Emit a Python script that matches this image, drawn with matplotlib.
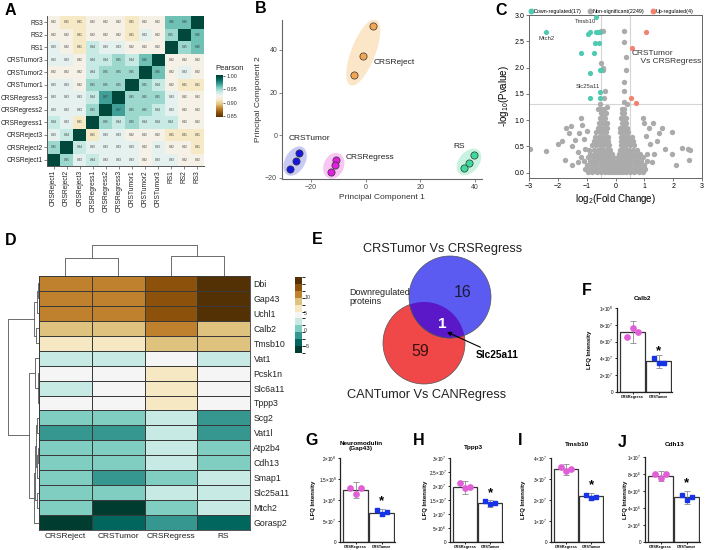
import numpy as np
import matplotlib
matplotlib.use('Agg')
import matplotlib.pyplot as plt
from matplotlib.colors import ListedColormap, BoundaryNorm
from matplotlib.patches import Circle
from matplotlib.lines import Line2D

plt.rcParams['font.family'] = ['Liberation Sans', 'DejaVu Sans']
plt.rcParams['mathtext.fontset'] = 'custom'
plt.rcParams['mathtext.rm'] = 'Liberation Sans'
plt.rcParams['mathtext.it'] = 'Liberation Sans:italic'
plt.rcParams['mathtext.bf'] = 'Liberation Sans:bold'

# ---------------- data ----------------
# A: Pearson correlation between samples
samples = ['CRSReject1', 'CRSReject2', 'CRSReject3', 'CRSRegress1', 'CRSRegress2', 'CRSRegress3',
           'CRSTumor1', 'CRSTumor2', 'CRSTumor3', 'RS1', 'RS2', 'RS3']
pearson = [
    [1.00, 0.95, 0.93, 0.94, 0.93, 0.93, 0.93, 0.92, 0.93, 0.93, 0.92, 0.92],
    [0.95, 1.00, 0.94, 0.93, 0.93, 0.93, 0.93, 0.92, 0.93, 0.92, 0.92, 0.91],
    [0.93, 0.94, 1.00, 0.91, 0.93, 0.93, 0.92, 0.92, 0.92, 0.91, 0.91, 0.91],
    [0.94, 0.93, 0.91, 1.00, 0.95, 0.94, 0.95, 0.94, 0.94, 0.94, 0.92, 0.92],
    [0.93, 0.93, 0.93, 0.95, 1.00, 0.97, 0.95, 0.95, 0.94, 0.93, 0.92, 0.92],
    [0.93, 0.93, 0.93, 0.94, 0.97, 1.00, 0.95, 0.95, 0.95, 0.93, 0.92, 0.92],
    [0.93, 0.93, 0.92, 0.95, 0.95, 0.95, 1.00, 0.95, 0.94, 0.92, 0.91, 0.91],
    [0.92, 0.92, 0.92, 0.94, 0.95, 0.95, 0.95, 1.00, 0.96, 0.92, 0.93, 0.92],
    [0.93, 0.93, 0.92, 0.94, 0.94, 0.95, 0.94, 0.96, 1.00, 0.92, 0.92, 0.92],
    [0.93, 0.92, 0.91, 0.94, 0.93, 0.93, 0.92, 0.92, 0.92, 1.00, 0.95, 0.96],
    [0.92, 0.92, 0.91, 0.92, 0.92, 0.92, 0.91, 0.93, 0.92, 0.95, 1.00, 0.96],
    [0.92, 0.91, 0.91, 0.92, 0.92, 0.92, 0.91, 0.92, 0.92, 0.96, 0.96, 1.00],
]

# B: PCA
pca_groups = ['CRSReject', 'CRSTumor', 'CRSRegress', 'RS']
pc1 = [[2.6, -1.0, -4.3], [-24.4, -25.5, -27.5], [-10.9, -11.4, -12.7], [39.6, 37.7, 35.9]]
pc2 = [[51.0, 37.3, 28.1], [-8.4, -12.3, -15.6], [-11.7, -14.0, -17.2], [-9.4, -12.8, -15.3]]
pca_colors = ['#F2A553', '#1717E0', '#E01EE0', '#3CDB9A']
pca_fills = ['#FCE6C8', '#C9CAF4', '#F7C6F3', '#C8F3E0']

# C: volcano
down_x = [-0.68, -2.41, -0.94, -0.88, -0.68, -0.54, -0.62, -0.71, -0.56, -1.21, -0.75, -0.88, -0.54, -0.52, -0.54, -0.88, -0.54]
down_y = [2.97, 2.68, 2.63, 2.68, 2.68, 2.68, 2.68, 2.47, 2.47, 2.27, 2.27, 1.90, 1.95, 1.96, 1.54, 1.42, 1.42]
up_x = [1.05, 0.58, 0.53, 0.70]
up_y = [2.68, 2.38, 1.42, 1.32]
ns_rows = [
    (0.02, [-0.95, -0.8, -0.65, -0.5, -0.38, -0.26, -0.15, -0.05, 0.05, 0.15, 0.26, 0.38, 0.5, 0.65, 0.8, 0.95]),
    (0.08, [-1.05, -0.88, -0.72, -0.58, -0.45, -0.33, -0.2, -0.1, 0.0, 0.1, 0.2, 0.33, 0.45, 0.58, 0.72, 0.88, 1.02]),
    (0.15, [-0.98, -0.82, -0.66, -0.52, -0.4, -0.28, -0.16, -0.05, 0.05, 0.16, 0.28, 0.4, 0.52, 0.66, 0.82, 0.98]),
    (0.22, [-1.1, -0.9, -0.74, -0.6, -0.47, -0.35, -0.24, -0.12, 0.0, 0.12, 0.24, 0.35, 0.47, 0.6, 0.74, 0.9, 1.08]),
    (0.29, [-0.95, -0.78, -0.64, -0.52, -0.4, -0.29, -0.18, -0.07, 0.07, 0.18, 0.29, 0.4, 0.52, 0.64, 0.8, 0.96]),
    (0.36, [-0.88, -0.72, -0.58, -0.46, -0.35, -0.24, -0.13, 0.12, 0.22, 0.33, 0.45, 0.57, 0.7, 0.86]),
    (0.44, [-0.92, -0.76, -0.62, -0.5, -0.39, -0.28, -0.18, 0.16, 0.26, 0.37, 0.48, 0.6, 0.74]),
    (0.52, [-0.82, -0.68, -0.55, -0.43, -0.31, -0.21, 0.18, 0.27, 0.38, 0.5, 0.63]),
    (0.60, [-0.76, -0.62, -0.5, -0.38, -0.27, 0.18, 0.26, 0.37, 0.48, 0.6]),
    (0.68, [-0.7, -0.57, -0.46, -0.35, -0.26, 0.18, 0.24, 0.34, 0.45, 0.56]),
    (0.77, [-0.66, -0.53, -0.42, -0.33, 0.17, 0.23, 0.33, 0.43]),
    (0.86, [-0.6, -0.49, -0.39, -0.3, 0.16, 0.22, 0.31, 0.4]),
    (0.95, [-0.57, -0.46, -0.37, -0.29, 0.21, 0.3, 0.38]),
    (1.04, [-0.54, -0.44, -0.35, 0.2, 0.28, 0.35]),
    (1.13, [-0.52, -0.42, -0.33, 0.21, 0.29]),
    (1.22, [-0.49, -0.39, 0.23, 0.31]),
]
ns_out_x = [-2.95, -2.4, -2.0, -1.85, -1.7, -1.6, -1.55, -1.75, -1.5, -1.4, -1.3, -1.25, -1.2, -1.15, -1.1, -1.05, -1.0, -1.3, -1.5, -1.2,
            1.05, 1.15, 1.2, 1.3, 1.35, 1.45, 1.5, 1.6, 1.7, 1.95, 1.95, 2.1, 2.3, 2.5, 2.55, 2.6, 1.25, 1.1, 1.0, 0.95,
            -0.5, -0.45, -0.5, -0.45, -0.45, -0.35, -0.4, -0.6, -0.55, -0.3, 0.3, 0.3, 0.35, 0.35, 0.3, 0.3, 0.3, 0.4]
ns_out_y = [0.45, 0.41, 0.55, 0.6, 0.85, 0.75, 0.88, 0.25, 0.5, 0.62, 0.4, 0.75, 1.05, 0.9, 0.65, 0.45, 0.8, 0.2, 0.15, 0.3,
            0.7, 0.85, 0.55, 0.95, 0.35, 0.6, 0.75, 0.85, 0.45, 0.78, 0.35, 0.15, 0.47, 0.45, 0.25, 0.43, 0.2, 0.35, 0.95, 1.05,
            2.7, 2.7, 2.08, 2.0, 1.96, 1.55, 1.43, 1.22, 1.3, 1.25, 2.7, 2.48, 2.2, 1.95, 1.72, 1.55, 1.35, 1.3]
volcano_labels = ['Tmsb10', 'Mtch2', 'Slc25a11']
volcano_label_xy = [(-1.05, 2.87), (-2.4, 2.56), (-0.95, 1.64)]

# D: clustered heatmap
conditions = ['CRSReject', 'CRSTumor', 'CRSRegress', 'RS']
genes = ['Dbi', 'Gap43', 'Uchl1', 'Calb2', 'Tmsb10', 'Vat1', 'Pcsk1n', 'Slc6a11', 'Tppp3',
         'Scg2', 'Vat1l', 'Atp2b4', 'Cdh13', 'Smap1', 'Slc25a11', 'Mtch2', 'Gorasp2']
expr = [
    [10.8, 10.8, 12.8, 15.0],
    [10.8, 10.8, 12.8, 15.0],
    [10.8, 10.8, 12.8, 15.0],
    [8.7, 8.7, 10.8, 8.7],
    [6.5, 6.5, 8.7, 8.7],
    [2.4, 2.4, 4.5, 2.4],
    [4.5, 4.5, 6.5, 4.5],
    [2.4, 4.5, 6.5, 4.5],
    [4.5, 4.5, 6.5, 4.5],
    [0.3, 0.3, 2.4, -1.8],
    [-1.8, -1.8, 2.4, -1.8],
    [0.3, 0.3, 2.4, 0.3],
    [0.3, 0.3, 2.4, 0.3],
    [0.3, -1.8, 0.3, 2.4],
    [0.3, 0.3, 2.4, 2.4],
    [0.3, -6.0, 0.3, 2.4],
    [-6.0, -3.9, -1.8, -3.9],
]
col_links = [(0, 1, 18), (2, 3, 20), (4, 5, 31)]
row_links = [(0, 1, 1.5), (17, 2, 2.5), (3, 4, 3), (18, 19, 5),
             (6, 8, 1.5), (21, 7, 2.5), (5, 22, 4),
             (11, 12, 1), (9, 10, 2), (24, 13, 2.5), (25, 26, 3), (14, 15, 2.5), (27, 28, 4), (29, 16, 5),
             (23, 30, 10), (20, 31, 31)]

# E: Venn
venn_only_crs = 16
venn_only_can = 59
venn_shared = 1

# F-J: LFQ intensity bars
bar_groups = ['CRSRegress', 'CRSTumor']
calb2_reg, calb2_tum = [6.6e7, 7.6e7, 7.1e7], [4.0e7, 3.4e7, 3.5e7]
calb2_mean, calb2_sd = [7.1e7, 3.65e7], [1.3e7, 0.8e7]
gap43_reg, gap43_tum = [1.28e8, 1.14e8, 1.28e8], [7.6e7, 6.7e7, 7.2e7]
gap43_mean, gap43_sd = [1.24e8, 7.0e7], [1.9e7, 0.85e7]
tppp3_reg, tppp3_tum = [2.12e7, 1.92e7, 1.95e7], [1.46e7, 1.36e7, 1.38e7]
tppp3_mean, tppp3_sd = [1.95e7, 1.38e7], [2.3e6, 1.3e6]
tmsb10_reg, tmsb10_tum = [3.55e7, 3.37e7, 3.49e7], [2.25e7, 2.1e7, 2.12e7]
tmsb10_mean, tmsb10_sd = [3.46e7, 2.17e7], [2.6e6, 1.6e6]
cdh13_reg, cdh13_tum = [8.0e6, 7.5e6, 8.0e6], [5.5e6, 4.9e6, 5.3e6]
cdh13_mean, cdh13_sd = [7.8e6, 5.25e6], [6e5, 7.5e5]

# ---------------- figure ----------------
W, H = 709, 550
fig = plt.figure(figsize=(W / 100, H / 100), dpi=100)


def box(l, t, r, b):
    return [l / W, 1 - b / H, (r - l) / W, (b - t) / H]


def ftext(x, y, s, **kw):
    fig.text(x / W, 1 - y / H, s, **kw)


for letter, (lx, ly) in zip('ABCDEFGHIJ', [(5, 3), (255, 1), (495, 3), (5, 233), (312, 232),
                                         (582, 283), (305, 433), (413, 433), (518, 433), (618, 435)]):
    ftext(lx, ly, letter, fontsize=11.5, fontweight='bold', va='top', ha='left')

# ---- A ----
axA = fig.add_axes(box(47, 16, 204, 166))
P = np.array(pearson)
imA = axA.imshow(P, cmap='BrBG', vmin=0.845, vmax=1.005, aspect='auto', origin='lower')
for i in range(len(samples)):
    for j in range(len(samples)):
        v = P[i, j]
        axA.text(j, i, '1' if v >= 1 else f'{v:.2f}', ha='center', va='center', fontsize=2.2, color='#333333')
axA.set_xticks(range(len(samples)))
axA.set_xticklabels(samples, rotation=90, fontsize=4.8, color='#222222')
axA.set_yticks(range(len(samples)))
axA.set_yticklabels(samples, fontsize=4.8, color='#222222')
axA.tick_params(length=2, width=0.5, color='#555555', pad=1)
for s in ['top', 'right']:
    axA.spines[s].set_visible(False)
for s in ['left', 'bottom']:
    axA.spines[s].set_color('#555555')
    axA.spines[s].set_linewidth(0.7)
caxA = fig.add_axes(box(216, 75, 223, 117))
cbA = fig.colorbar(imA, cax=caxA, ticks=[0.85, 0.90, 0.95, 1.00])
cbA.ax.set_yticklabels(['0.85', '0.90', '0.95', '1.00'], fontsize=4, color='#333333')
cbA.ax.tick_params(length=1.5, width=0.4, pad=1)
cbA.outline.set_visible(False)
ftext(215, 68, 'Pearson', fontsize=5.5, va='center', ha='left', color='#222222')

# ---- B ----
axB = fig.add_axes(box(282, 20, 482, 179))
sx, sy = 2.725, 2.135
for k, g in enumerate(pca_groups):
    X = np.array(pc1[k]) * sx
    Y = np.array(pc2[k]) * sy
    cx, cy = X.mean(), Y.mean()
    dx, dy = X[0] - X[-1], Y[0] - Y[-1]
    L = np.hypot(dx, dy)
    ux, uy = dx / L, dy / L
    a = L / 2 + (9 if k == 0 else 7)
    b = 12 if k == 0 else 10
    t = np.linspace(0, 2 * np.pi, 120)
    ex = cx + a * np.cos(t) * ux - b * np.sin(t) * uy
    ey = cy + a * np.cos(t) * uy + b * np.sin(t) * ux
    axB.fill(ex / sx, ey / sy, color=pca_fills[k], lw=0, zorder=1)
    axB.scatter(pc1[k], pc2[k], s=27, color=pca_colors[k], edgecolor='#333333', linewidth=0.5, zorder=3)
for g, (tx, ty) in zip(pca_groups, [(3, 34), (-28, -1.5), (-7.5, -10.3), (32, -5.5)]):
    axB.text(tx, ty, g, fontsize=6, color='#222222', ha='left', va='center')
axB.set_xlim(-30.6, 42.5)
axB.set_ylim(-20.5, 54)
axB.set_xticks([-20, 0, 20, 40])
axB.set_yticks([-20, 0, 20, 40])
axB.tick_params(labelsize=5, length=2, width=0.5, color='#555555', labelcolor='#444444', pad=1.5)
for s in ['top', 'right']:
    axB.spines[s].set_visible(False)
for s in ['left', 'bottom']:
    axB.spines[s].set_color('#666666')
    axB.spines[s].set_linewidth(0.8)
axB.set_xlabel('Principal Component 1', fontsize=6, color='#333333', labelpad=2)
axB.set_ylabel('Principal Component 2', fontsize=6, color='#333333', labelpad=2)

# ---- C ----
axC = fig.add_axes(box(529, 15, 702, 178))
ns_x = [x for y, xs in ns_rows for x in xs] + ns_out_x
ns_y = [y for y, xs in ns_rows for x in xs] + ns_out_y
grey, teal, salmon = '#ABABAB', '#4FC9B0', '#F0826E'
axC.axvline(-0.5, color='#D5D5D5', lw=0.8, zorder=1)
axC.axvline(0.5, color='#D5D5D5', lw=0.8, zorder=1)
axC.axhline(1.3, color='#D5D5D5', lw=0.8, zorder=1)
axC.scatter(ns_x, ns_y, s=15, color=grey, lw=0, zorder=2)
axC.scatter(down_x, down_y, s=14, color=teal, lw=0, zorder=3)
axC.scatter(up_x, up_y, s=14, color=salmon, lw=0, zorder=3)
for lab, (tx, ty) in zip(volcano_labels, volcano_label_xy):
    axC.text(tx, ty, lab, fontsize=4.2, color='#333333', ha='center', va='center')
axC.text(0.55, 2.05, 'CRSTumor\n    Vs CRSRegress', fontsize=6, color='#333333', ha='left', va='bottom', linespacing=1.1)
axC.set_xlim(-3, 3)
axC.set_ylim(-0.1, 3.0)
axC.set_xticks([-3, -2, -1, 0, 1, 2, 3])
axC.set_yticks([0, 0.5, 1.0, 1.5, 2.0, 2.5, 3.0])
axC.set_yticklabels(['0.0', '0.5', '1.0', '1.5', '2.0', '2.5', '3.0'])
axC.tick_params(labelsize=5, length=2, width=0.5, pad=1.5, color='#444444')
for s in axC.spines.values():
    s.set_color('#666666')
    s.set_linewidth(0.7)
axC.set_xlabel(r'log$_2$(Fold Change)', fontsize=7, labelpad=1.5)
axC.set_ylabel(r'-log$_{10}$(Pvalue)', fontsize=7, labelpad=2)
handles = [Line2D([], [], marker='o', ls='', color=c, ms=3.2) for c in [teal, grey, salmon]]
axC.legend(handles, ['Down-regulated(17)', 'Non-significant(2249)', 'Up-regulated(4)'], ncol=3,
           loc='lower left', bbox_to_anchor=(-0.02, 0.99), frameon=False, fontsize=3.9,
           handletextpad=0.05, columnspacing=1.0, borderaxespad=0.1, handlelength=1.0)

# ---- D ----
brbg11 = ['#003c30', '#01665e', '#35978f', '#80cdc1', '#c7eae5', '#f5f5f5',
          '#f6e8c3', '#dfc27d', '#bf812d', '#8c510a', '#543005']
cmapD = ListedColormap(brbg11)
normD = BoundaryNorm(np.linspace(-7, 16, 12), cmapD.N)
axD = fig.add_axes(box(39, 276, 250, 530))
meshD = axD.pcolormesh(np.array(expr), cmap=cmapD, norm=normD, edgecolors='#3a3a3a', linewidth=0.6)
axD.set_ylim(len(genes), 0)
axD.set_xlim(0, len(conditions))
axD.yaxis.tick_right()
axD.set_yticks(np.arange(len(genes)) + 0.5)
axD.set_yticklabels(genes, fontsize=6.3, color='#222222')
axD.set_xticks(np.arange(len(conditions)) + 0.5)
axD.set_xticklabels(conditions, fontsize=6, color='#222222')
axD.tick_params(length=0, pad=2.5)
for s in axD.spines.values():
    s.set_color('#3a3a3a')
    s.set_linewidth(0.6)


def dendro(ax, n, links, horizontal):
    pos = {k: k + 0.5 for k in range(n)}
    hgt = {k: 0.0 for k in range(n)}
    for idx, (a, b, h) in enumerate(links):
        xs = [pos[a], pos[a], pos[b], pos[b]]
        ys = [hgt[a], h, h, hgt[b]]
        if horizontal:
            ax.plot(ys, xs, color='#555555', lw=0.6)
        else:
            ax.plot(xs, ys, color='#555555', lw=0.6)
        pos[n + idx] = (pos[a] + pos[b]) / 2
        hgt[n + idx] = h
    ax.axis('off')


axDt = fig.add_axes(box(39, 244, 250, 276))
dendro(axDt, len(conditions), col_links, False)
axDt.set_xlim(0, len(conditions))
axDt.set_ylim(0, 32)
axDl = fig.add_axes(box(5, 276, 39, 530))
dendro(axDl, len(genes), row_links, True)
axDl.set_ylim(len(genes), 0)
axDl.set_xlim(34, 0)
caxD = fig.add_axes(box(295, 277, 302, 353))
cbD = fig.colorbar(meshD, cax=caxD, ticks=[-5, 0, 5, 10])
cbD.ax.tick_params(labelsize=3.8, length=0, pad=1.5, labelcolor='#333333')
cbD.outline.set_visible(False)

# ---- E ----
axE = fig.add_axes(box(330, 240, 540, 415))
axE.set_xlim(330, 540)
axE.set_ylim(415, 240)
axE.axis('off')
red = Circle((424, 343), 41, facecolor='#F04848', edgecolor='#555555', lw=0.5, zorder=1)
blue = Circle((450, 297), 41, facecolor='#5B5BF2', edgecolor='#555555', lw=0.5, zorder=2)
axE.add_patch(red)
axE.add_patch(blue)
mid = Circle((450, 297), 41, facecolor='#5A18C8', edgecolor='#555555', lw=0.5, zorder=3)
axE.add_patch(mid)
mid.set_clip_path(red)
axE.text(463, 293, str(venn_only_crs), fontsize=11.5, ha='center', va='center', color='#1a1a3a', zorder=5)
axE.text(420, 352, str(venn_only_can), fontsize=11.5, ha='center', va='center', color='#3a1010', zorder=5)
axE.text(442, 324, str(venn_shared), fontsize=11, ha='center', va='center', color='white', fontweight='bold', zorder=5)
axE.annotate('Slc25a11', xy=(447, 332), xytext=(476, 355), fontsize=7.3, fontweight='bold', ha='left', va='center',
             zorder=6, arrowprops=dict(arrowstyle='-|>', color='black', lw=0.8, mutation_scale=6, shrinkA=0, shrinkB=0))
axE.text(443, 249, 'CRSTumor Vs CRSRegress', fontsize=9.2, ha='center', va='center', color='#222222')
axE.text(427, 395, 'CANTumor Vs CANRegress', fontsize=9.2, ha='center', va='center', color='#222222')
axE.text(349, 297, 'Downregulated\nproteins', fontsize=6.5, ha='left', va='center', color='#222222', linespacing=1.0)


# ---- F-J ----
def bar_panel(rect, title, title_xy, ylab_x, top, ticks, ticklabels, reg, tum, mean, sd, star):
    ax = fig.add_axes(rect)
    ax.bar([0, 1], mean, width=0.95, color='white', edgecolor='#333333', lw=0.9, zorder=1)
    ax.errorbar([0, 1], mean, yerr=sd, fmt='none', ecolor='#8a8a8a', elinewidth=0.6, capsize=2.2, capthick=0.6, zorder=2)
    ax.plot([-0.2, 0, 0.2], reg, 'o', color='#E05ED6', ms=3.8, mec='#E05ED6', zorder=3)
    ax.plot([0.8, 1.0, 1.2], tum, 's', color='#1733E6', ms=3.3, mec='#1733E6', zorder=3)
    ax.text(1, star, '*', fontsize=9.5, fontweight='bold', ha='center', va='center')
    ax.set_xlim(-0.6, 1.5)
    ax.set_ylim(0, top)
    ax.set_yticks(ticks)
    ax.set_yticklabels(ticklabels, fontsize=3.3)
    ax.set_xticks([0, 1])
    ax.set_xticklabels(bar_groups, fontsize=2.7, fontweight='bold')
    ax.tick_params(length=1.5, width=0.6, pad=1)
    for s in ['top', 'right']:
        ax.spines[s].set_visible(False)
    for s in ['left', 'bottom']:
        ax.spines[s].set_linewidth(0.9)
        ax.spines[s].set_color('#222222')
    ftext(title_xy[0], title_xy[1], title, fontsize=4.6, fontweight='bold', ha='center', va='center', linespacing=1.1)
    b = 1 - (rect[1] + rect[3] / 2)
    ftext(ylab_x, b * H, 'LFQ Intensity', fontsize=4.3, fontweight='bold', rotation=90, ha='center', va='center')
    return ax


bar_panel(box(617, 308, 672, 392), 'Calb2', (642, 298), 590, 1e8,
          [0, 2e7, 4e7, 6e7, 8e7, 1e8],
          ['0', r'$2{\times}10^7$', r'$4{\times}10^7$', r'$6{\times}10^7$', r'$8{\times}10^7$', r'$1{\times}10^8$'],
          calb2_reg, calb2_tum, calb2_mean, calb2_sd, 4.9e7)
bar_panel(box(340, 458, 395, 542), 'Neuromodulin\n(Gap43)', (361, 446), 313, 2e8,
          [0, 5e7, 1e8, 1.5e8, 2e8],
          ['0', r'$5{\times}10^7$', r'$1{\times}10^8$', r'$1.5{\times}10^8$', r'$2{\times}10^8$'],
          gap43_reg, gap43_tum, gap43_mean, gap43_sd, 9.8e7)
bar_panel(box(450, 458, 503, 542), 'Tppp3', (473, 447), 426, 3e7,
          [0, 5e6, 1e7, 1.5e7, 2e7, 2.5e7, 3e7],
          ['0', r'$5{\times}10^6$', r'$1{\times}10^7$', r'$1.5{\times}10^7$', r'$2{\times}10^7$', r'$2.5{\times}10^7$', r'$3{\times}10^7$'],
          tppp3_reg, tppp3_tum, tppp3_mean, tppp3_sd, 1.74e7)
bar_panel(box(551, 458, 604, 542), 'Tmsb10', (577, 445), 524, 4e7,
          [0, 1e7, 2e7, 3e7, 4e7],
          ['0', r'$1{\times}10^7$', r'$2{\times}10^7$', r'$3{\times}10^7$', r'$4{\times}10^7$'],
          tmsb10_reg, tmsb10_tum, tmsb10_mean, tmsb10_sd, 2.69e7)
bar_panel(box(645, 457, 700, 542), 'Cdh13', (675, 445), 625, 1e7,
          [0, 2e6, 4e6, 6e6, 8e6, 1e7],
          ['0', r'$2{\times}10^6$', r'$4{\times}10^6$', r'$6{\times}10^6$', r'$8{\times}10^6$', r'$1{\times}10^7$'],
          cdh13_reg, cdh13_tum, cdh13_mean, cdh13_sd, 6.95e6)

fig.savefig('out.png', dpi=100)
